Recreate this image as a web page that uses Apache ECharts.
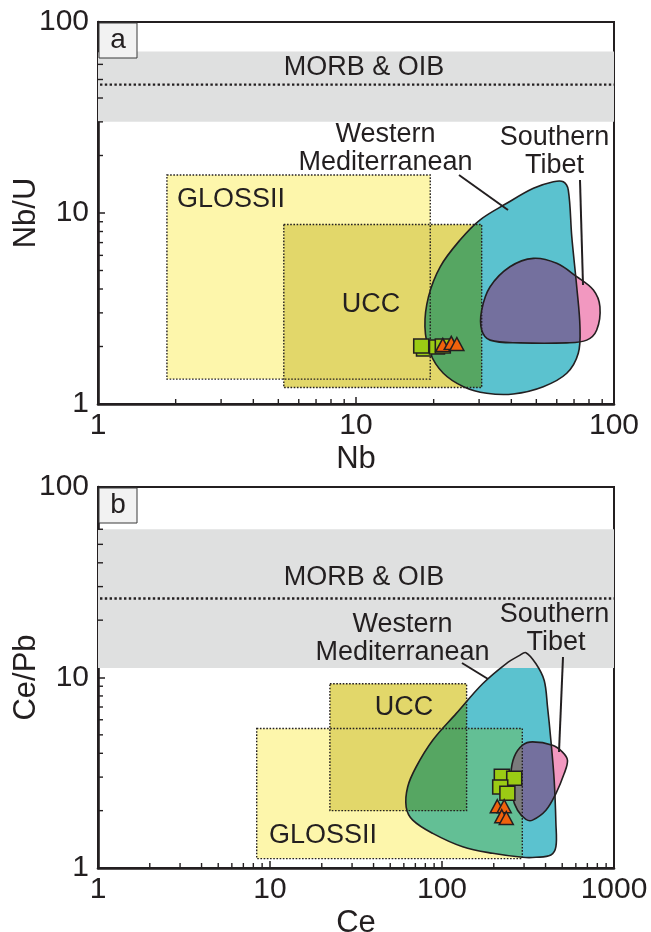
<!DOCTYPE html>
<html>
<head>
<meta charset="utf-8">
<script src="https://cdn.jsdelivr.net/npm/echarts@6/dist/echarts.min.js"></script>
<style>
  html, body { margin: 0; padding: 0; background: #fff; }
  #chart { width: 651px; height: 932px; }
</style>
</head>
<body>
<div id="chart"></div>
<script>
// ---------- tick labels ----------
const nbTicks   = ['1', '10', '100'];
const nbuTicks  = ['1', '10', '100'];
const ceTicks   = ['1', '10', '100', '1000'];
const cepbTicks = ['1', '10', '100'];

// ---------- panel a: Nb vs Nb/U ----------
const nbSquares   = [[18.35, 1.94], [17.9, 2.01], [20.6, 1.99], [21.7, 2.01]];
const nbTriangles = [[21.7, 2.04], [23.4, 2.09], [24.6, 2.06]];
const morbNbU   = [30, 70, 47];                 // band low, band high, mean line
const glossNb   = [[1.85, 19.4], [1.35, 15.8]]; // [Nb range], [Nb/U range]
const uccNb     = [[5.25, 30.7], [1.22, 8.7]];
const westMedNb = [[58.2, 14.58], [63.6, 14.58], [66.5, 13.19], [68.6, 7.52], [71.7, 4.11],
  [73.8, 2.54], [72.7, 1.842], [65.6, 1.448], [53.2, 1.232], [40.7, 1.128], [32.1, 1.138],
  [26.1, 1.232], [21.8, 1.448], [19.4, 1.842], [18.5, 2.54], [19.1, 3.65], [21.2, 5.23],
  [25.3, 7.22], [30.2, 9.19], [38.4, 11.24], [48.7, 13.47]];
const tibetNb = [[48.7, 5.79], [59.97, 5.45], [71.7, 4.64], [83.2, 3.95], [88.2, 3.23],
  [85.7, 2.44], [78.4, 2.16], [65.6, 2.09], [43.2, 2.09], [33.1, 2.16], [30.7, 2.44],
  [30.7, 3.10], [33.1, 4.11], [39.5, 5.23]];

// ---------- panel b: Ce vs Ce/Pb ----------
const ceSquares   = [[222.7, 3.03], [263, 2.96], [218, 2.66], [240, 2.47]];
const ceTriangles = [[209.7, 2.11], [230, 2.11], [222.6, 1.87], [236.5, 1.83]];
const morbCePb  = [11.2, 60, 26];
const glossCe   = [[8.37, 293], [1.12, 5.4]];
const uccCe     = [[22.3, 139], [2.0, 9.27]];
const westMedCe = [[307.6, 13.5], [351.8, 11.8], [392.9, 9.65], [410.8, 6.99], [429.6, 4.68],
  [449, 2.89], [459.5, 1.714], [459.5, 1.293], [429.6, 1.17], [351.8, 1.138], [294, 1.138],
  [196.9, 1.194], [131.9, 1.293], [88.3, 1.52], [67.6, 1.784], [61.9, 2.09], [63.2, 2.67],
  [70.7, 3.39], [88.3, 4.68], [120.8, 6.46], [172.3, 9.27], [235.5, 11.8], [281.3, 13.03]];
const tibetCe = [[336, 4.59], [439, 4.41], [501.8, 4.06], [536.5, 3.68], [513.3, 3.13],
  [459.5, 2.46], [402, 2.01], [336, 1.784], [307.6, 1.80], [275, 2.01], [257, 2.36],
  [251.8, 3.13], [263, 3.83], [294, 4.41]];

// ---------- styling ----------
const INK = '#231f20';
const FONT = '"Liberation Sans", Arial, sans-serif';
const COL = {
  band: '#dfe0e0', gloss: '#fdf6ab', ucc: '#e2d76a',
  wm: '#5bc2cf', wmGreen: '#56a662', wmSea: '#63bf95',
  tibet: '#f298c0', purple: '#74709e', grey: '#7b7b7c',
  square: '#9bcb14', triangle: '#f0620c'
};
const SMOOTH = 0.35;
const TOP_Z = 100;

function minorValues(min, max) {
  const out = [];
  for (let d = min; d < max; d *= 10) {
    for (let k = 2; k <= 9; k++) out.push(d * k);
  }
  return out;
}

function fieldSeries(idx, f) {
  return {
    type: 'custom', coordinateSystem: 'cartesian2d',
    xAxisIndex: idx, yAxisIndex: idx, silent: true, z: 2,
    data: [[f.xExt[0], f.yExt[0]]],
    renderItem: function (params, api) {
      const c = p => api.coord(p);
      const rectOf = (xr, yr) => {
        const a = c([xr[0], yr[1]]), b = c([xr[1], yr[0]]);
        return { x: a[0], y: a[1], width: b[0] - a[0], height: b[1] - a[1] };
      };
      const wm = f.wm.map(c), tb = f.tibet.map(c);
      const glossR = rectOf(f.gloss[0], f.gloss[1]);
      const uccR = rectOf(f.ucc[0], f.ucc[1]);
      const bandR = rectOf(f.xExt, [f.band[0], f.band[1]]);
      const kids = [];
      // compositional fields
      kids.push({ type: 'rect', shape: glossR, style: { fill: COL.gloss } });
      kids.push({ type: 'rect', shape: uccR, style: { fill: COL.ucc, blend: 'multiply' } });
      kids.push({ type: 'polygon', shape: { points: wm, smooth: SMOOTH }, style: { fill: COL.wm } });
      if (f.seaOverGloss) {
        kids.push({ type: 'polygon', shape: { points: wm, smooth: SMOOTH }, style: { fill: COL.wmSea },
          clipPath: { type: 'rect', shape: glossR } });
      }
      kids.push({ type: 'polygon', shape: { points: wm, smooth: SMOOTH }, style: { fill: COL.wmGreen },
        clipPath: { type: 'rect', shape: uccR } });
      kids.push({ type: 'rect', shape: bandR, style: { fill: COL.band, blend: 'multiply' } });
      kids.push({ type: 'polygon', shape: { points: tb, smooth: SMOOTH }, style: { fill: COL.tibet } });
      kids.push({ type: 'polygon', shape: { points: tb, smooth: SMOOTH }, style: { fill: COL.purple },
        clipPath: { type: 'polygon', shape: { points: wm, smooth: SMOOTH } } });
      if (f.greyOverGloss) {
        kids.push({ type: 'polygon', shape: { points: tb, smooth: SMOOTH }, style: { fill: COL.grey },
          clipPath: { type: 'rect', shape: glossR } });
      }
      // outlines
      kids.push({ type: 'polygon', shape: { points: wm, smooth: SMOOTH },
        style: { fill: null, stroke: INK, lineWidth: 1.6 } });
      kids.push({ type: 'polygon', shape: { points: tb, smooth: SMOOTH },
        style: { fill: null, stroke: INK, lineWidth: 1.6 } });
      [glossR, uccR].forEach(r => kids.push({ type: 'rect', shape: r,
        style: { fill: null, stroke: INK, lineWidth: 1.4, lineDash: [1.6, 1.6] } }));
      const m0 = c([f.xExt[0], f.band[2]]), m1 = c([f.xExt[1], f.band[2]]);
      kids.push({ type: 'line', shape: { x1: m0[0] + 2, y1: m0[1], x2: m1[0], y2: m1[1] },
        style: { stroke: INK, lineWidth: 2.4, lineDash: [2.4, 2.4] } });
      // minor ticks along the bottom and left axes
      minorValues(f.xExt[0], f.xExt[1]).forEach(v => {
        const p = c([v, f.yExt[0]]);
        kids.push({ type: 'line', shape: { x1: p[0], y1: p[1], x2: p[0], y2: p[1] - 5 },
          style: { stroke: INK, lineWidth: 1.4 } });
      });
      minorValues(f.yExt[0], f.yExt[1]).forEach(v => {
        const p = c([f.xExt[0], v]);
        kids.push({ type: 'line', shape: { x1: p[0], y1: p[1], x2: p[0] + 5, y2: p[1] },
          style: { stroke: INK, lineWidth: 1.4 } });
      });
      return { type: 'group', children: kids };
    }
  };
}

function logAxis(idx, ext, labels, name, isX) {
  return {
    gridIndex: idx, type: 'log', logBase: 10, min: ext[0], max: ext[1],
    axisLine: { show: true, onZero: false, lineStyle: { color: INK, width: 2.6 } },
    axisTick: { show: true, inside: true, length: 7, lineStyle: { color: INK, width: 1.5 } },
    minorTick: { show: false }, splitLine: { show: false },
    axisLabel: {
      show: true, color: INK, fontSize: 30, fontFamily: FONT, margin: isX ? 7 : 9,
      formatter: v => labels[Math.round(Math.log10(v / ext[0]))] || ''
    },
    name: name, nameLocation: 'middle', nameGap: isX ? 40 : 56, nameMoveOverlap: false,
    nameTextStyle: { color: INK, fontSize: 31, fontFamily: FONT }
  };
}

function scatter(idx, data, symbol, size, color) {
  return {
    type: 'scatter', xAxisIndex: idx, yAxisIndex: idx, data: data, z: 5,
    symbol: symbol, symbolSize: size, silent: true,
    itemStyle: { color: color, borderColor: INK, borderWidth: 1.5, opacity: 1 }
  };
}

function text(x, y, str, size) {
  return { type: 'text', x: x, y: y, z: TOP_Z, silent: true,
    style: { text: str, fill: INK, font: (size || 27) + 'px ' + FONT, align: 'center', verticalAlign: 'middle' } };
}
function lead(x1, y1, x2, y2) {
  return { type: 'line', z: TOP_Z, silent: true, shape: { x1, y1, x2, y2 }, style: { stroke: INK, lineWidth: 2 } };
}
function tag(x, y, str) {
  return { type: 'group', x: x, y: y, z: TOP_Z, silent: true, children: [
    { type: 'rect', z: TOP_Z, shape: { x: 0, y: 0, width: 38, height: 35 }, style: { fill: '#f2f2f2', stroke: '#3a3a3a', lineWidth: 1 } },
    { type: 'text', z: TOP_Z, x: 19, y: 17.5, style: { text: str, fill: INK, font: '28px ' + FONT, align: 'center', verticalAlign: 'middle' } }
  ] };
}

const chart = echarts.init(document.getElementById('chart'), null, { renderer: 'canvas' });
chart.setOption({
  backgroundColor: '#ffffff',
  animation: false,
  grid: [
    { left: 98, top: 22, width: 516, height: 382, show: true, borderColor: INK, borderWidth: 2, backgroundColor: 'transparent', containLabel: false, outerBoundsMode: 'none' },
    { left: 98, top: 487, width: 516, height: 381, show: true, borderColor: INK, borderWidth: 2, backgroundColor: 'transparent', containLabel: false, outerBoundsMode: 'none' }
  ],
  xAxis: [logAxis(0, [1, 100], nbTicks, 'Nb', true), logAxis(1, [1, 1000], ceTicks, 'Ce', true)],
  yAxis: [logAxis(0, [1, 100], nbuTicks, 'Nb/U', false), logAxis(1, [1, 100], cepbTicks, 'Ce/Pb', false)],
  series: [
    fieldSeries(0, { xExt: [1, 100], yExt: [1, 100], band: morbNbU, gloss: glossNb, ucc: uccNb,
      wm: westMedNb, tibet: tibetNb, seaOverGloss: false, greyOverGloss: false }),
    fieldSeries(1, { xExt: [1, 1000], yExt: [1, 100], band: morbCePb, gloss: glossCe, ucc: uccCe,
      wm: westMedCe, tibet: tibetCe, seaOverGloss: true, greyOverGloss: true }),
    scatter(0, nbSquares, 'rect', [15, 14], COL.square),
    scatter(0, nbTriangles, 'triangle', [14, 13], COL.triangle),
    scatter(1, ceSquares, 'rect', [15, 14], COL.square),
    scatter(1, ceTriangles, 'triangle', [14, 13], COL.triangle)
  ],
  graphic: { elements: [
    tag(99, 23, 'a'),
    text(364, 68, 'MORB & OIB'),
    text(385.5, 135, 'Western'), text(385.5, 163, 'Mediterranean'),
    lead(459, 175, 508, 210),
    text(554.5, 138, 'Southern'), text(554.5, 166, 'Tibet'),
    lead(580, 180, 583, 285),
    text(231, 200, 'GLOSSII'),
    text(371, 305, 'UCC'),

    tag(99, 488, 'b'),
    text(364, 578, 'MORB & OIB'),
    text(402.5, 625, 'Western'), text(402.5, 653, 'Mediterranean'),
    lead(462, 663, 488, 679),
    text(554.5, 615, 'Southern'), text(556, 643, 'Tibet'),
    lead(563, 657, 559, 752),
    text(404, 708, 'UCC'),
    text(323, 836, 'GLOSSII')
  ] }
});
</script>
</body>
</html>
